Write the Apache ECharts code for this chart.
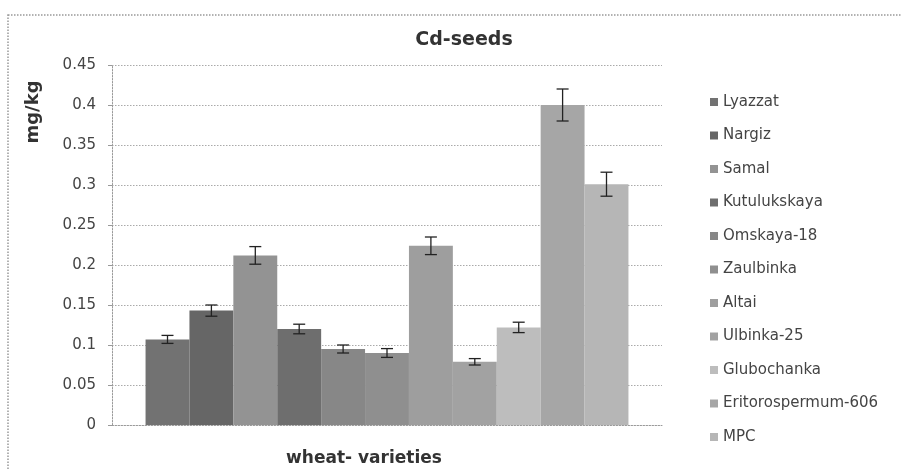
<!DOCTYPE html>
<html>
<head>
<meta charset="utf-8">
<script src="https://cdn.jsdelivr.net/npm/echarts@6/dist/echarts.min.js"></script>
<style>
html,body{margin:0;padding:0;background:#fff;}
#chart{width:902px;height:470px;}
</style>
</head>
<body>
<div id="chart"></div>
<script>
const categories = ['wheat- varieties'];
const varieties = ['Lyazzat','Nargiz','Samal','Kutulukskaya','Omskaya-18','Zaulbinka','Altai','Ulbinka-25','Glubochanka','Eritorospermum-606','MPC'];
const values = [0.107, 0.143, 0.212, 0.120, 0.095, 0.090, 0.224, 0.079, 0.122, 0.400, 0.301];
const errors = [0.005, 0.007, 0.011, 0.006, 0.005, 0.0055, 0.011, 0.004, 0.0065, 0.020, 0.015];
const colors = ['#727272','#666666','#939393','#6e6e6e','#878787','#8f8f8f','#9e9e9e','#a2a2a2','#bdbdbd','#a6a6a6','#b6b6b6'];
const yTicks = [0, 0.05, 0.1, 0.15, 0.2, 0.25, 0.3, 0.35, 0.4, 0.45];

const FONT = '"DejaVu Sans", "Open Sans", sans-serif';
const BAR_CAT_GAP = 0.122;
const count = varieties.length;

const barSeries = varieties.map((name, i) => ({
  name: name,
  type: 'bar',
  data: [values[i]],
  barGap: '0%',
  barCategoryGap: (BAR_CAT_GAP * 100) + '%',
  itemStyle: { color: colors[i] },
  emphasis: { disabled: true }
}));

const errData = varieties.map((n, i) => [0, values[i] - errors[i], values[i] + errors[i], i]);

const errSeries = {
  type: 'custom',
  name: 'err',
  data: errData,
  z: 10,
  silent: true,
  renderItem: function (params, api) {
    const idx = api.value(3);
    const lowP = api.coord([api.value(0), api.value(1)]);
    const highP = api.coord([api.value(0), api.value(2)]);
    const band = api.size([1, 0])[0];
    const total = band * (1 - BAR_CAT_GAP);
    const w = total / count;
    const x = lowP[0] - total / 2 + (idx + 0.5) * w;
    const cap = 6;
    const style = { stroke: '#222', lineWidth: 1.3 };
    return {
      type: 'group',
      children: [
        { type: 'line', shape: { x1: x, y1: lowP[1], x2: x, y2: highP[1] }, style: style },
        { type: 'line', shape: { x1: x - cap, y1: lowP[1], x2: x + cap, y2: lowP[1] }, style: style },
        { type: 'line', shape: { x1: x - cap, y1: highP[1], x2: x + cap, y2: highP[1] }, style: style }
      ]
    };
  }
};

const chart = echarts.init(document.getElementById('chart'), null, { renderer: 'canvas' });
chart.setOption({
  animation: false,
  backgroundColor: '#fff',
  title: {
    text: 'Cd-seeds',
    left: 459,
    top: 26,
    textAlign: 'center',
    textStyle: { fontFamily: FONT, fontSize: 19, fontWeight: 'bold', color: '#333' }
  },
  graphic: [{
    type: 'rect',
    shape: { x: 8, y: 15, width: 900, height: 470 },
    style: { fill: 'none', stroke: '#999', lineWidth: 1.5, lineDash: [1.5, 1.5] },
    silent: true
  }],
  legend: {
    orient: 'vertical',
    left: 710,
    top: 94,
    padding: 0,
    data: varieties,
    icon: 'rect',
    itemWidth: 8,
    itemHeight: 8,
    itemGap: 17.5,
    selectedMode: false,
    textStyle: { fontFamily: FONT, fontSize: 15, color: '#444', lineHeight: 16 }
  },
  grid: { left: 112, right: 240, top: 65, bottom: 45, containLabel: false, outerBoundsMode: 'none' },
  xAxis: {
    type: 'category',
    data: categories,
    name: 'wheat- varieties',
    nameLocation: 'middle',
    nameGap: 25,
    nameTextStyle: { fontFamily: FONT, fontSize: 17, fontWeight: 'bold', color: '#333', padding: [0, 46, 0, 0] },
    axisLine: { show: true, lineStyle: { color: '#999', type: [1.5, 1.5] } },
    axisTick: { show: false },
    axisLabel: { show: false }
  },
  yAxis: {
    type: 'value',
    min: 0,
    max: 0.45,
    interval: 0.05,
    name: 'mg/kg',
    nameLocation: 'middle',
    nameGap: 70,
    nameRotate: 90,
    nameTextStyle: { fontFamily: FONT, fontSize: 18, fontWeight: 'bold', color: '#333', padding: [0, 0, 0, 266] },
    axisLine: { show: true, lineStyle: { color: '#999', type: [1.5, 1.5] } },
    axisTick: { show: true, length: 4, inside: false, lineStyle: { color: '#999' } },
    axisLabel: {
      fontFamily: FONT, fontSize: 15, color: '#444', margin: 16,
      formatter: function (v) {
        const t = yTicks.find(x => Math.abs(x - v) < 1e-9);
        return t === undefined ? '' : String(t);
      }
    },
    splitLine: { show: true, lineStyle: { color: '#aaa', type: [1.5, 1.5] } }
  },
  series: barSeries.concat([errSeries])
});
</script>
</body>
</html>
